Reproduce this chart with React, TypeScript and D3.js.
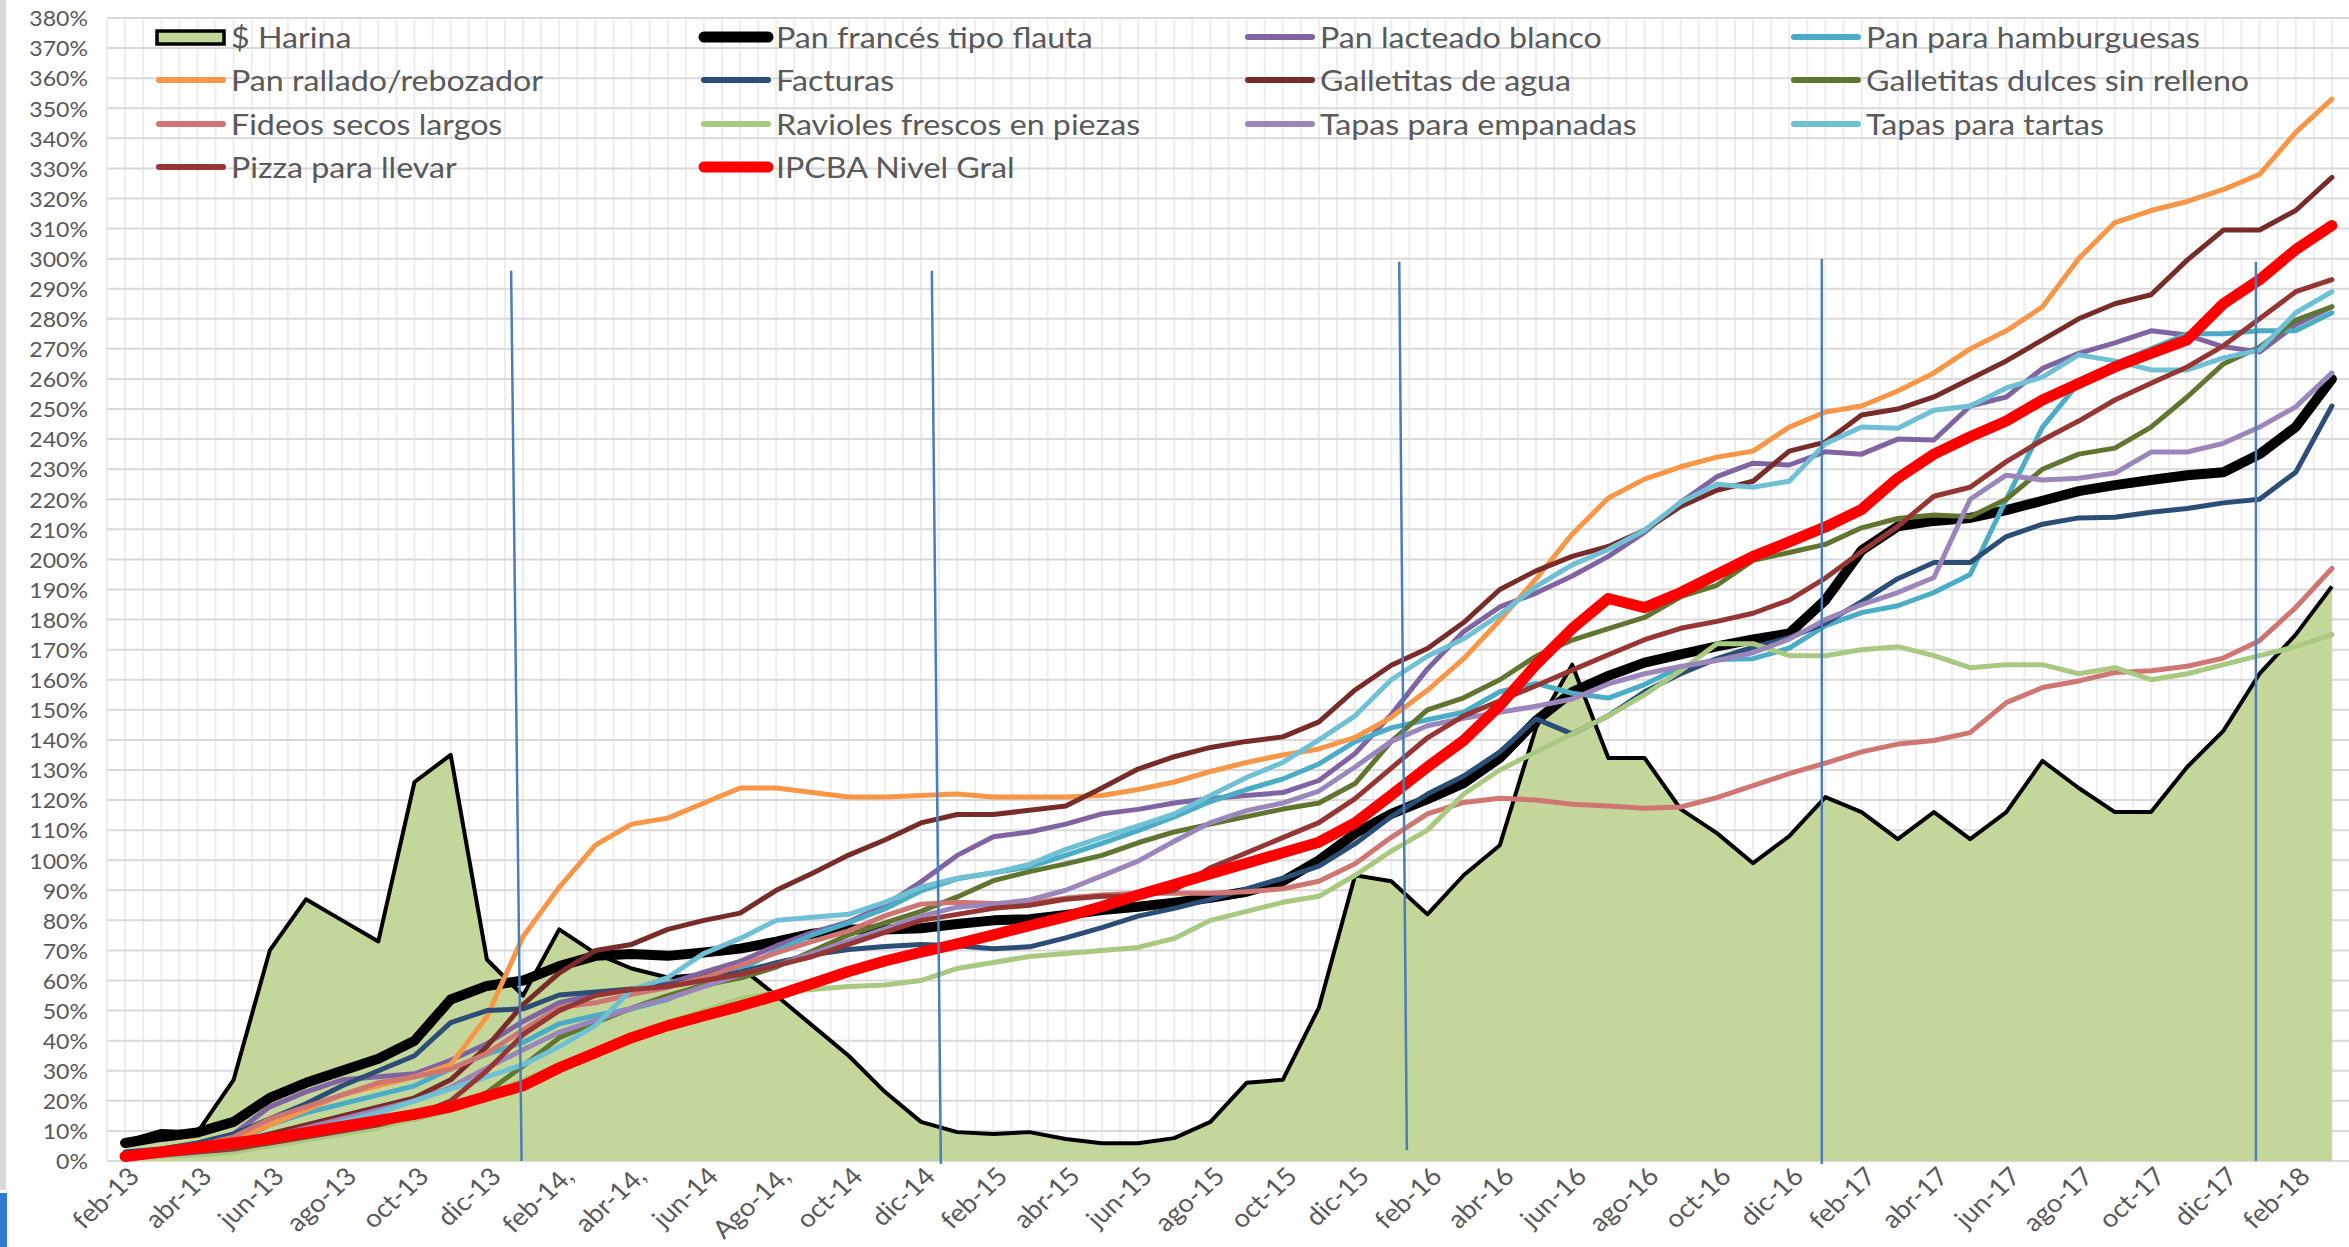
import React from "react";
import * as d3 from "d3";

const W = 2349;
const H = 1247;

const months = [
  "feb-13","mar-13","abr-13","may-13","jun-13","jul-13","ago-13","sep-13","oct-13","nov-13","dic-13","ene-14",
  "feb-14,","mar-14,","abr-14,","may-14","jun-14","jul-14","Ago-14,","sep-14","oct-14","nov-14","dic-14","ene-15",
  "feb-15","mar-15","abr-15","may-15","jun-15","jul-15","ago-15","sep-15","oct-15","nov-15","dic-15","ene-16",
  "feb-16","mar-16","abr-16","may-16","jun-16","jul-16","ago-16","sep-16","oct-16","nov-16","dic-16","ene-17",
  "feb-17","mar-17","abr-17","may-17","jun-17","jul-17","ago-17","sep-17","oct-17","nov-17","dic-17","ene-18",
  "feb-18","mar-18"
];

const yTicks = d3.range(0, 381, 10);

const harina = [6.5,10,9.5,27,70,87,80,73,126,135,67,55,77,69,64,61,62,64.5,55,45,35,23,13,9.6,9,9.6,7.3,5.9,5.9,7.6,13,26,27,51,95,93,82,95,105,144,165,134,134,117,109,99,108,121,116,107,116,107,116,133,124,116,116,131,143,162,175,191];
const panFrances = [6,8,9.5,13,21,26,30,34,40,53.7,58.2,60,64.8,68.2,68.8,68.2,69.3,70.6,72.9,75.6,77,77,77.4,78.8,80,80.4,81.8,83.4,84.5,85.9,87.5,89.5,93,100,108.9,115.4,120.3,125.6,134,146.4,155.9,161.3,165.7,168.4,171.1,173.4,175.4,186.5,203,211,212.8,213.8,216.4,219.5,222.7,224.7,226.4,228,229,235,244,260];
const lacteado = [2,3,5,9,18,23,27,28,29,33.5,39,46.4,52.6,55.4,57.2,59,62.8,66.4,71.5,76,79.5,85,92.8,101.6,107.8,109.4,112,115.4,116.9,119,120.5,121.5,122.5,126.5,135.5,148.4,163.6,176,184.2,188.8,194.5,201,209,219,227.5,232,231.4,235.8,235,240,239.7,251,254,263.5,268.5,272,276,274.6,270.7,269,278,284];
const hamburguesas = [2,3,4,6,12,16,19,22,25,30.7,35.5,39.4,45.6,48.4,50.6,53.7,59,63.6,69.8,75.2,79.2,83.8,89.8,93.8,95.8,97.8,101.6,105.6,109.8,114.4,119.5,123.5,127,132,139.4,144,146.7,149.2,156,158.8,155.5,153.9,158.4,164.2,166.7,167,170.5,178,182.3,184.6,189,195,220,244,258.6,265,270,275,275,276,276,282];
const rallado = [1,2,4,7,12,17,22,25,28,32,48,74.6,91,105,112,114,119,124,124,122.5,121,121,121.5,122,121,121,121,121.5,123.5,126,129.5,132.5,135,137,140.8,147.5,156.5,167,179.8,193.5,208.4,220.4,226.7,230.8,234,236,244,249,251,256,262,270,276,284,300,312,316,319,323,328,342,353];
const facturas = [3,4,6,9,14,19,25,30,35,46,50,50.6,55.2,56.2,57.2,58.5,60.5,62.8,65.9,68.6,70.3,71.3,72,71.6,70.6,71.2,74.2,77.6,81.4,84,87,90.5,94,98,105.5,114.5,122,128,136,147,142,148,156,162,167,170.8,174,178.8,186,193.6,199,199,207.6,211.7,213.8,214,215.7,216.9,218.8,220,229,251];
const galletitasAgua = [2,3,4,6,9,12,15,18,21,27,38,52,62.5,70,72,77,80,82.4,90,95.7,101.7,106.7,112.4,115.2,115.2,116.6,118,124,130.3,134.4,137.5,139.5,141,146,156.6,164.8,170.4,179,190,196.2,201,204.3,209.7,217.6,223,226,236,239,248,250,254,260,266,273,280,285,288,299.5,309.5,309.5,316,327];
const galletitasDulces = [1,2,3,4,6,8,10,12,14,17,22.8,31.6,41,46,50.8,55,58.5,60.8,64.5,69.8,75.2,79.2,83,87.8,93.2,96.2,98.8,101.6,105.8,109.4,112,114.5,117,119,125.5,139.5,150,154,160,167.8,173.2,177,180.7,187.6,191.4,199.7,202.3,205,210.5,213.6,214.8,214.2,220,230,235,237,244,254,265,270.6,279.6,284];
const fideos = [2,3,5,8,14,18,22,26,28,30.5,35.8,43.6,51,52.6,55.4,57.7,61,65,69.2,73,76.5,81.5,85.4,86,85.6,85.8,87.4,88.4,89,89,89,89.5,90.5,93,98.8,107.6,115.4,119.2,120.6,120,118.6,118,117.3,117.7,120.8,124.8,128.8,132.3,136,138.6,139.8,142.4,152.4,157.4,159.6,162.4,163,164.5,167.2,173,184,197];
const ravioles = [1,1.5,2,3,5,7,9,11,14,17,22,27,32,36,40,46,50,54,56,57,58,58.5,60,64,66,68,69,70,71,74,80,83,86,88,95,103,110,122,130,136,142,148,155,163,172,172,168,168,170,171,168,164,165,165,162,164,160,162,165,168,171,175];
const empanadas = [1,2,3,5,8,11,14,17,20,24.5,30.9,37,42.8,46.8,50.8,54,58,62,65,69,73.2,77.2,81.4,84.4,85.4,86.8,90,94.8,99.7,106.3,112.5,116.5,119,123,131,139.5,144.7,147.2,149.2,151.2,153.6,158.6,162,164.4,166.4,169,173.5,180,185,189,194,220,228,226.4,227,228.7,235.7,235.7,238.6,244,250.7,262];
const tartas = [1,2,3,5,8,10,13,16,20,24,28,32,38,45,57,61,69,74,80,81,82,86,91,94,95.8,98.6,103.6,107.6,111.4,115.4,121.5,127.5,132.5,140,148,160,167.8,173.6,181.6,191,198.2,203.3,209.7,219,225,224,226,238.5,244,243.6,249.6,251,257,260.6,268,266,263,263,267,269.6,282,289];
const pizza = [1,2,3,4,6,8,10,12,15,20,30,42,50,55,57,58,60,62,65,68,72,76,80,82,84,85,87,88,88,90,97.5,102.5,107.5,112.5,120.5,130.6,140.7,148,153,158,163.2,168.3,173.3,177.1,179.4,182.1,186.5,193.8,202.6,211,221,224,232.5,239.7,246,253,258.6,264,271,280,289,293];
const ipcba = [1.5,3,4.5,6,7.5,9.5,11.5,13.5,15.5,18,21.5,25,31,36,41,45,48.3,51.5,55,59,63,66.5,69.4,72.2,75.2,78.2,81.2,84.6,88.4,91.9,95.5,99,102.5,106,112.4,121.6,131,139.8,151.4,165,177,187,184,189,195,201,205.8,210.8,216.6,227,235,240.8,246,253,258.5,264,268.5,273,285,293,303,311];

const lineSeries = [
  { name: "Pan francés tipo flauta", values: panFrances, color: "#000000", width: 10 },
  { name: "Pan lacteado blanco", values: lacteado, color: "#8064A2", width: 5 },
  { name: "Pan para hamburguesas", values: hamburguesas, color: "#4BACC6", width: 5 },
  { name: "Pan rallado/rebozador", values: rallado, color: "#F79646", width: 5 },
  { name: "Facturas", values: facturas, color: "#2C4D75", width: 5 },
  { name: "Galletitas de agua", values: galletitasAgua, color: "#772C2A", width: 5 },
  { name: "Galletitas dulces sin relleno", values: galletitasDulces, color: "#5F7530", width: 5 },
  { name: "Fideos secos largos", values: fideos, color: "#CF7572", width: 5 },
  { name: "Ravioles frescos en piezas", values: ravioles, color: "#A9C880", width: 5 },
  { name: "Tapas para empanadas", values: empanadas, color: "#9B86BB", width: 5 },
  { name: "Tapas para tartas", values: tartas, color: "#6FC0D5", width: 5 },
  { name: "Pizza para llevar", values: pizza, color: "#963634", width: 5 },
  { name: "IPCBA Nivel Gral", values: ipcba, color: "#FF0000", width: 11 },
];

// annotation lines: [category position top, value top, category position bottom, value bottom]
const markers = [
  [10.67, 296, 10.96, 0],
  [22.3, 296, 22.55, -1],
  [35.22, 299, 35.43, 3.6],
  [46.9, 300, 46.9, -1],
  [58.9, 299, 58.9, 0],
];

const legendItems = [
  "$ Harina", "Pan francés tipo flauta", "Pan lacteado blanco", "Pan para hamburguesas",
  "Pan rallado/rebozador", "Facturas", "Galletitas de agua", "Galletitas dulces sin relleno",
  "Fideos secos largos", "Ravioles frescos en piezas", "Tapas para empanadas", "Tapas para tartas",
  "Pizza para llevar", "IPCBA Nivel Gral",
];

const FONT = "Lato, 'Open Sans', sans-serif";
const TXT = "#595959";

export default function App() {
  const plotLeft = 107;
  const plotRight = 2350;
  const plotTop = 18;
  const plotBottom = 1161;

  const band = d3.scaleBand<number>().domain(d3.range(months.length)).range([plotLeft, plotRight]).padding(0);
  const bw = band.bandwidth();
  const xc = (i: number) => (band(Math.floor(i)) as number) + bw / 2 + (i - Math.floor(i)) * bw;
  const y = d3.scaleLinear().domain([0, 380]).range([plotBottom, plotTop]);

  const line = d3.line<number>().x((_, i) => xc(i)).y((v) => y(v));
  const area = d3.area<number>().x((_, i) => xc(i)).y0(y(0)).y1((v) => y(v));

  const vGrid: number[] = [];
  for (let i = 0; i <= months.length; i++) {
    vGrid.push(plotLeft + i * bw);
    if (i < months.length) vGrid.push(plotLeft + i * bw + bw / 2);
  }

  const legendCols = [231, 776, 1320, 1866];
  const legendRows = [37, 80, 124, 167];

  return (
    <svg width={W} height={H} style={{ display: "block", position: "absolute", left: 0, top: 0, background: "#fff" }}>
      <rect x={0} y={0} width={W} height={H} fill="#fff" />
      <rect x={0} y={0} width={6} height={1190} fill="#D9D9D9" />
      <rect x={0} y={1193} width={7} height={54} fill="#2F7BD3" />
      {vGrid.map((gx, i) => (
        <line key={"vg" + i} x1={gx} x2={gx} y1={plotTop} y2={plotBottom} stroke="#EDEDED" strokeWidth={2} />
      ))}
      {yTicks.map((t) => (
        <line key={"hg" + t} x1={plotLeft} x2={plotRight} y1={y(t)} y2={y(t)} stroke="#D9D9D9" strokeWidth={2} />
      ))}
      {yTicks.map((t) => (
        <text key={"yl" + t} transform={`translate(88,${y(t)}) scale(1.05,1)`} textAnchor="end" dominantBaseline="central"
          fontFamily={FONT} fontSize={22} fill={TXT}>{t + "%"}</text>
      ))}
      {months.map((m, i) => i % 2 === 0 ? (
        <text key={"xl" + i} transform={`translate(${xc(i) + 16},${plotBottom + 17}) scale(1.1,1) rotate(-45)`} textAnchor="end"
          fontFamily={FONT} fontSize={25} fill={TXT}>{m}</text>
      ) : null)}
      <path d={area(harina) as string} fill="#C4D79B" />
      <path d={line(harina) as string} fill="none" stroke="#000" strokeWidth={4} strokeLinejoin="round" />
      {lineSeries.map((s) => (
        <path key={s.name} d={line(s.values) as string} fill="none" stroke={s.color} strokeWidth={s.width}
          strokeLinejoin="round" strokeLinecap="round" />
      ))}
      {markers.map((m, i) => (
        <line key={"mk" + i} x1={xc(m[0])} y1={y(m[1])} x2={xc(m[2])} y2={y(m[3])} stroke="#4A7EBB" strokeWidth={2.5} />
      ))}
      {legendItems.map((name, k) => {
        const cx = legendCols[k % 4];
        const cy = legendRows[Math.floor(k / 4)];
        const s = lineSeries.find((d) => d.name === name);
        return (
          <g key={"lg" + k}>
            {k === 0 ? (
              <rect x={cx - 74} y={cy - 6} width={67} height={13} fill="#C4D79B" stroke="#000" strokeWidth={3.5} />
            ) : (
              <line x1={cx - 72} x2={cx - 8} y1={cy} y2={cy} stroke={s!.color} strokeWidth={s!.width === 5 ? 6 : 11} strokeLinecap="round" />
            )}
            <text transform={`translate(${cx},${cy}) scale(1.15,1)`} dominantBaseline="central" fontFamily={FONT} fontSize={28} fill={TXT}>{name}</text>
          </g>
        );
      })}
    </svg>
  );
}
